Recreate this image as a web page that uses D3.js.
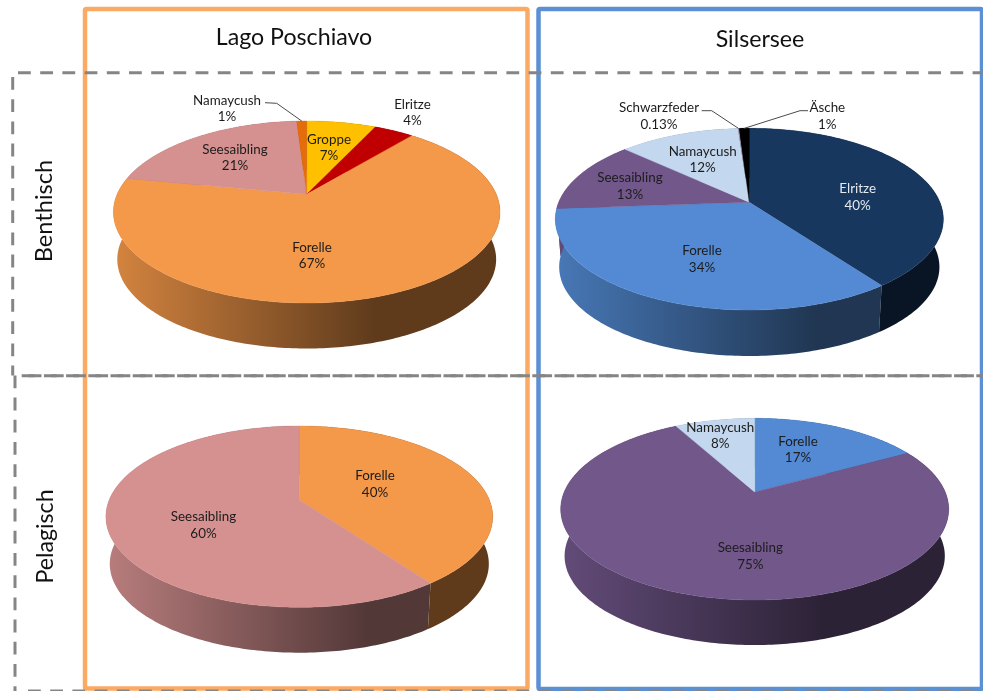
<!DOCTYPE html>
<html><head><meta charset="utf-8">
<script src="https://cdn.jsdelivr.net/npm/d3@7"></script>
<style>html,body{margin:0;padding:0;background:#fff;overflow:hidden}svg{display:block;filter:blur(0.4px)}text{font-family:Lato,"Open Sans",sans-serif}</style>
</head><body><svg id="c" width="983" height="691"></svg>
<script>
// ---- data ----
const columnTitles = ["Lago Poschiavo", "Silsersee"];
const rowTitles = ["Benthisch", "Pelagisch"];
const poschiavoBenthicNames = ["Groppe", "Elritze", "Forelle", "Seesaibling", "Namaycush"];
const poschiavoBenthicValues = [7, 4, 67, 21, 1];
const silserBenthicNames = ["Elritze", "Forelle", "Seesaibling", "Namaycush", "Schwarzfeder", "Äsche"];
const silserBenthicValues = [40, 34, 13, 12, 0.13, 1];
const poschiavoPelagicNames = ["Forelle", "Seesaibling"];
const poschiavoPelagicValues = [40, 60];
const silserPelagicNames = ["Forelle", "Seesaibling", "Namaycush"];
const silserPelagicValues = [17, 75, 8];

// ---- styles ----
const fishColorsPoschiavo = {Groppe:"#FFC000",Elritze:"#C00000",Forelle:"#F49849",Seesaibling:"#D59090",Namaycush:"#E46C0A"};
const fishColorsSilser = {Elritze:"#17375E",Forelle:"#538AD3",Seesaibling:"#72578B",Namaycush:"#C3D7EE",Schwarzfeder:"#A99BC0","Äsche":"#000000"};

// ---- layout ----
const pieLayouts = [
 {names:poschiavoBenthicNames,values:poschiavoBenthicValues,colors:fishColorsPoschiavo,cx:306.7,ay:194.3,hw:193.3,top:121,bot:303,sideBot:348.5,
  labels:{Groppe:[329,139],Elritze:[412.5,104],Forelle:[312,247],Seesaibling:[235,149],Namaycush:[227,100]},
  leaders:{Namaycush:[[265,102.7],[276.7,103.3]]}},
 {names:silserBenthicNames,values:silserBenthicValues,colors:fishColorsSilser,cx:749.3,ay:202.3,hw:194,top:128.3,bot:310,sideBot:356,
  labels:{Elritze:[857.7,188.7],Forelle:[702,250.3],Seesaibling:[630,177.3],Namaycush:[702.7,151],Schwarzfeder:[659,107.3],"Äsche":[827.3,107.3]},
  leaders:{Schwarzfeder:[[701.7,110.7],[711.7,110.7]],"Äsche":[[808,110.7],[800,110.7]]},light:["Elritze"]},
 {names:poschiavoPelagicNames,values:poschiavoPelagicValues,colors:fishColorsPoschiavo,cx:299.3,ay:500,hw:193.4,top:426,bot:607.3,sideBot:652.7,
  labels:{Forelle:[375,475.7],Seesaibling:[203.5,516.7]},leaders:{}},
 {names:silserPelagicNames,values:silserPelagicValues,colors:fishColorsSilser,cx:754.7,ay:492,hw:194,top:418.3,bot:600,sideBot:645,
  labels:{Forelle:[798,441],Seesaibling:[750.3,547.7],Namaycush:[720.3,427]},leaders:{}}
];

const svg = d3.select("#c");
const defs = svg.append("defs");
const pieGen = d3.pie().sort(null).startAngle(0).endAngle(2*Math.PI);
const pathGen = d3.line();
const fmt = v => (v < 1 ? String(v) : String(Math.round(v))) + "%";

pieLayouts.forEach((p, pi) => {
  const up = p.ay - p.top, dn = p.bot - p.ay;
  const k = (dn - up) / (dn + up);
  const b = up * (1 + k);
  const a = p.hw * Math.sqrt(1 - k * k);
  const s = 0.98;
  const dy = p.sideBot - p.ay - s * dn;
  const top = t => { const u=Math.sin(t), v=Math.cos(t), w=1+k*v; return [p.cx+a*u/w, p.ay-b*v/w]; };
  const base = t => { const u=Math.sin(t), v=Math.cos(t), w=1+k*v; return [p.cx+s*a*u/w, p.ay+dy-s*b*v/w]; };
  const arcs = pieGen(p.values);
  const x0 = p.cx - p.hw * s, x1 = x0 + 2 * p.hw * s * 0.68;
  const g = svg.append("g");

  const sample = (d) => {
    const n = Math.max(2, Math.ceil((d.endAngle - d.startAngle) * 60));
    return d3.range(n + 1).map(i => d.startAngle + (d.endAngle - d.startAngle) * i / n);
  };

  // side walls, back to front
  const order = arcs.map((d,i)=>i).sort((i,j)=>
    Math.cos((arcs[j].startAngle+arcs[j].endAngle)/2) - Math.cos((arcs[i].startAngle+arcs[i].endAngle)/2)).reverse();
  order.forEach(i => {
    const d = arcs[i], name = p.names[i], col = d3.rgb(p.colors[name]);
    const id = `side-${pi}-${i}`;
    const lg = defs.append("linearGradient").attr("id", id).attr("gradientUnits","userSpaceOnUse")
      .attr("x1", x0).attr("x2", x1).attr("y1", 0).attr("y2", 0);
    const mul = f => d3.rgb(col.r*f, col.g*f, col.b*f).formatHex();
    lg.append("stop").attr("offset", 0).attr("stop-color", mul(0.86));
    lg.append("stop").attr("offset", 1).attr("stop-color", mul(0.39));
    const ts = sample(d);
    const poly = ts.map(top).concat(ts.slice().reverse().map(base));
    g.append("path").attr("d", pathGen(poly) + "Z").attr("fill", `url(#${id})`);
  });

  // top faces
  arcs.forEach((d, i) => {
    const name = p.names[i];
    const poly = [[p.cx, p.ay]].concat(sample(d).map(top));
    g.append("path").attr("d", pathGen(poly) + "Z").attr("fill", p.colors[name])
      .attr("stroke", p.colors[name]).attr("stroke-width", name === "Schwarzfeder" ? 0 : 0.4);
  });

  // leaders
  arcs.forEach((d, i) => {
    const name = p.names[i], l = p.leaders[name];
    if (!l) return;
    const mid = top((d.startAngle + d.endAngle) / 2);
    g.append("path").attr("d", pathGen([l[0], l[1], mid])).attr("fill","none")
      .attr("stroke","#4a4a4a").attr("stroke-width",1);
  });

  // labels
  arcs.forEach((d, i) => {
    const name = p.names[i], c = p.labels[name];
    const light = (p.light || []).includes(name);
    const t = g.append("text").attr("text-anchor","middle").attr("font-size",13.4)
      .attr("fill", light ? "#e4e9ef" : "#1c1c1c");
    t.append("tspan").attr("x", c[0]).attr("y", c[1] + 4.5).text(name);
    t.append("tspan").attr("x", c[0]).attr("y", c[1] + 21.3).text(fmt(p.values[i]));
  });
});

// frames
svg.append("rect").attr("x",85).attr("y",9).attr("width",442.5).attr("height",679.5)
  .attr("fill","none").attr("stroke","#FBAA63").attr("stroke-width",4.5).attr("rx",1.5);
svg.append("rect").attr("x",538.5).attr("y",9).attr("width",443.5).attr("height",680)
  .attr("fill","none").attr("stroke","#5B90D4").attr("stroke-width",4.5).attr("rx",1.5);

// dashed rows
const dash = (x1,y1,x2,y2,off) => svg.append("line").attr("x1",x1).attr("y1",y1).attr("x2",x2).attr("y2",y2)
  .attr("stroke","#858585").attr("stroke-width",3).attr("stroke-dasharray","12.8 9.4").attr("stroke-dashoffset",off||0);
dash(18,72.7,983,72.7);
dash(12.7,77,12.7,375.5);
dash(21.7,375.7,983,375.7);
dash(28.7,375.7,983,375.7);
dash(15,375.4,15,691);
dash(28,691,983,691);

// titles
const title = (txt,x,y,size,rot) => {
  const t = svg.append("text").attr("text-anchor","middle").attr("fill","#111").attr("font-size",size).text(txt);
  if (rot) t.attr("transform",`translate(${x},${y}) rotate(-90)`); else t.attr("x",x).attr("y",y);
};
title(columnTitles[0],294,44.5,23.2);
title(columnTitles[1],760,46.5,23.2);
title(rowTitles[0],52,211,23.6,true);
title(rowTitles[1],52.5,536.5,23.2,true);
</script></body></html>
